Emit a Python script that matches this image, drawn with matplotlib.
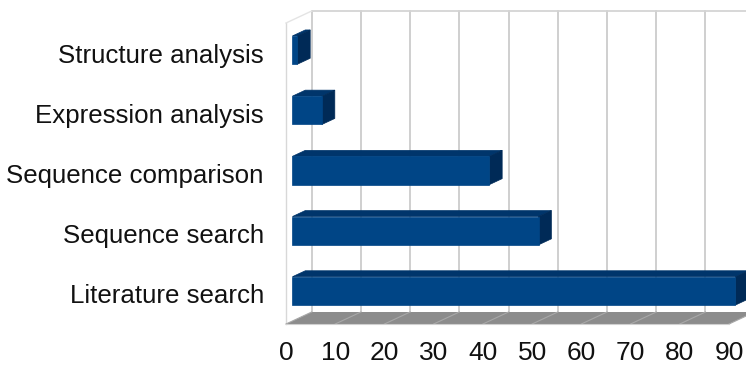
import matplotlib
matplotlib.use("Agg")
import matplotlib.pyplot as plt
from matplotlib.patches import Polygon, Rectangle

plt.rcParams['font.family'] = ['Liberation Sans', 'DejaVu Sans']

categories = ["Literature search", "Sequence search", "Sequence comparison",
              "Expression analysis", "Structure analysis"]
values = [90, 50, 40, 6, 1]
xticks = [0, 10, 20, 30, 40, 50, 60, 70, 80, 90]

W, H = 746, 367
fig = plt.figure(figsize=(W / 100, H / 100), dpi=100)
left_px, right_px = 286, 729
bottom_px = H - 324
ax = fig.add_axes([left_px / W, bottom_px / H, (right_px - left_px) / W, 1 - bottom_px / H])
xmax = 90
ax.set_xlim(0, xmax)
pxcat = 60.2
ax.set_ylim(-0.5, -0.5 + (H - bottom_px) / pxcat)
for s in ax.spines.values():
    s.set_visible(False)
ax.patch.set_visible(False)

DX = 25.7 / ((right_px - left_px) / xmax)
DY = 12 / pxcat
ytop = 4.5

# floor
ax.add_patch(Polygon([(0, -0.5), (xmax, -0.5), (xmax + DX, -0.5 + DY), (DX, -0.5 + DY)],
                     closed=True, facecolor="#8c8c8c", edgecolor="none", clip_on=False, zorder=1))
for v in xticks:
    ax.plot([v, v + DX], [-0.5, -0.5 + DY], color="#a8a8a8", lw=0.8, clip_on=False, zorder=1.5)
ax.plot([0, xmax], [-0.5, -0.5], color="#d0d0d0", lw=0.8, clip_on=False, zorder=1.6)

# back wall grid
for v in xticks:
    ax.plot([v + DX, v + DX], [-0.5 + DY, ytop + DY], color="#cccccc", lw=1.3, clip_on=False, zorder=0.5)
ax.plot([DX, xmax + DX + 5], [ytop + DY, ytop + DY], color="#d4d4d4", lw=1.3, clip_on=False, zorder=0.5)
# left wall edges
ax.plot([0, 0], [-0.5, ytop], color="#d8d8d8", lw=1.0, clip_on=False, zorder=0.5)
ax.plot([0, DX], [ytop, ytop + DY], color="#e4e4e4", lw=1.0, clip_on=False, zorder=0.5)

# bars
bw = 0.47
f0, f1 = 0.25, 0.75
front_c, top_c, side_c = "#004586", "#00356b", "#002a57"
for i in range(len(categories) - 1, -1, -1):
    v = values[i]
    x0 = f0 * DX
    yb = i - bw / 2 + f0 * DY
    yt = i + bw / 2 + f0 * DY
    ddx = (f1 - f0) * DX
    ddy = (f1 - f0) * DY
    ax.add_patch(Polygon([(x0, yt), (x0 + v, yt), (x0 + v + ddx, yt + ddy), (x0 + ddx, yt + ddy)],
                         closed=True, facecolor=top_c, edgecolor=top_c, lw=0.5, clip_on=False, zorder=3))
    ax.add_patch(Polygon([(x0 + v, yb), (x0 + v, yt), (x0 + v + ddx, yt + ddy), (x0 + v + ddx, yb + ddy)],
                         closed=True, facecolor=side_c, edgecolor=side_c, lw=0.5, clip_on=False, zorder=3))
    ax.add_patch(Rectangle((x0, yb), v, yt - yb, facecolor=front_c, edgecolor=front_c, lw=0.5,
                           clip_on=False, zorder=4))

ax.set_yticks(range(len(categories)))
ax.set_yticklabels(categories, fontsize=18.6, color="#111111")
ax.set_xticks(xticks)
ax.set_xticklabels([str(v) for v in xticks], fontsize=19, color="#111111")
ax.tick_params(axis="y", length=0, pad=16)
ax.tick_params(axis="x", length=0, pad=12)

fig.savefig("out.png", dpi=100)
